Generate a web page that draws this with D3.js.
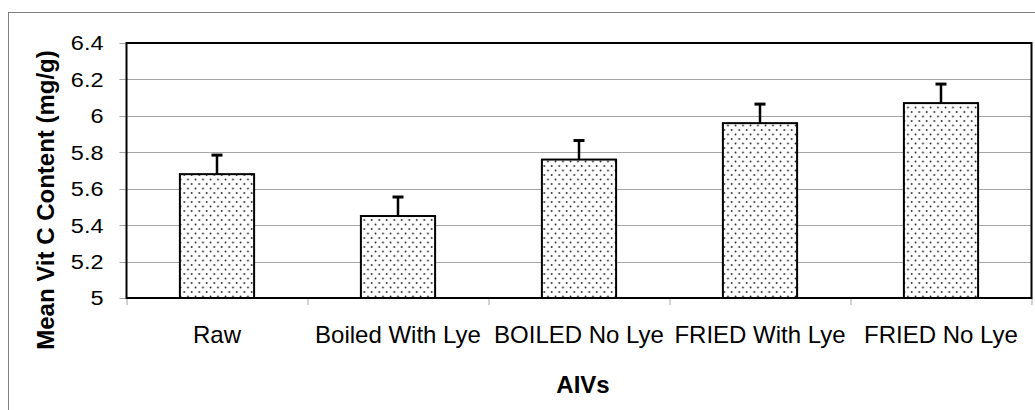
<!DOCTYPE html>
<html>
<head>
<meta charset="utf-8">
<script src="https://cdn.jsdelivr.net/npm/d3@7"></script>
<style>
  body { margin: 0; background: #fff; }
  text { font-family: "Liberation Sans", Arial, sans-serif; }
</style>
</head>
<body>
<div id="chart"></div>
<script>
// data
var categories = ["Raw", "Boiled With Lye", "BOILED No Lye", "FRIED With Lye", "FRIED No Lye"];
var means = [5.68, 5.45, 5.76, 5.96, 6.07];
var errors = [0.11, 0.11, 0.11, 0.11, 0.11];
var yTicks = [5, 5.2, 5.4, 5.6, 5.8, 6, 6.2, 6.4];

var W = 1035, H = 410;
var margin = {left: 126.5, top: 43, right: 3.5, bottom: 112};
var width = W - margin.left - margin.right,
    height = H - margin.top - margin.bottom;

var svg = d3.select("#chart").append("svg")
  .attr("width", W).attr("height", H);

// outer chart frame (runs off right and bottom edges)
svg.append("rect")
  .attr("x", 8.5).attr("y", 12.5)
  .attr("width", 1100).attr("height", 500)
  .attr("fill", "none").attr("stroke", "#7f7f7f").attr("stroke-width", 1);

// dotted fill pattern
var pat = svg.append("defs").append("pattern")
  .attr("id", "dots").attr("patternUnits", "userSpaceOnUse")
  .attr("width", 7.5).attr("height", 9);
pat.append("rect").attr("width", 7.5).attr("height", 9).attr("fill", "#fff");
pat.append("circle").attr("cx", 1.5).attr("cy", 1.5).attr("r", 0.9).attr("fill", "#222");
pat.append("circle").attr("cx", 5.25).attr("cy", 6).attr("r", 0.9).attr("fill", "#222");

var g = svg.append("g")
  .attr("transform", "translate(" + margin.left + "," + margin.top + ")");

var x = d3.scaleBand().domain(categories).range([0, width])
  .paddingInner(0.59).paddingOuter(0.295);
var y = d3.scaleLinear().domain([5, 6.4]).range([height, 0]);

// gridlines + left ticks
g.selectAll(".grid").data(yTicks).enter().append("line")
  .attr("class", "grid")
  .attr("x1", -7).attr("x2", width)
  .attr("y1", function(d) { return Math.round(y(d)) + 0.5; })
  .attr("y2", function(d) { return Math.round(y(d)) + 0.5; })
  .attr("stroke", "#a6a6a6").attr("stroke-width", 1);

// tick labels are a little wider than tall in the source, so stretch them
g.selectAll(".ylab").data(yTicks).enter().append("text")
  .attr("class", "ylab")
  .attr("dy", "0.35em")
  .attr("text-anchor", "end")
  .attr("font-size", 21)
  .attr("transform", function(d) { return "translate(-23," + y(d) + ") scale(1.12,1)"; })
  .text(function(d) { return d3.format("")(+d.toFixed(1)); });

// x ticks at category boundaries
var bounds = [0].concat(categories.map(function(c) { return x(c) + x.bandwidth() / 2 + x.step() / 2; }));
g.selectAll(".xtick").data(bounds).enter().append("line")
  .attr("class", "xtick")
  .attr("x1", function(d) { return Math.round(d) + 0.5; })
  .attr("x2", function(d) { return Math.round(d) + 0.5; })
  .attr("y1", height).attr("y2", height + 7)
  .attr("stroke", "#a6a6a6");

// bars
g.selectAll(".bar").data(means).enter().append("rect")
  .attr("class", "bar")
  .attr("x", function(d, i) { return x(categories[i]); })
  .attr("y", function(d) { return y(d); })
  .attr("width", x.bandwidth())
  .attr("height", function(d) { return height - y(d); })
  .attr("fill", "url(#dots)")
  .attr("stroke", "#000").attr("stroke-width", 2);

// error bars (upper only)
means.forEach(function(m, i) {
  var cx = x(categories[i]) + x.bandwidth() / 2;
  g.append("line")
    .attr("x1", cx).attr("x2", cx)
    .attr("y1", y(m)).attr("y2", y(m + errors[i]))
    .attr("stroke", "#000").attr("stroke-width", 2.5);
  g.append("line")
    .attr("x1", cx - 5.5).attr("x2", cx + 5.5)
    .attr("y1", y(m + errors[i]) + 1).attr("y2", y(m + errors[i]) + 1)
    .attr("stroke", "#000").attr("stroke-width", 3);
});

// plot border
g.append("rect")
  .attr("x", 0).attr("y", 0).attr("width", width).attr("height", height)
  .attr("fill", "none").attr("stroke", "#000").attr("stroke-width", 2);

// category labels
g.selectAll(".xlab").data(categories).enter().append("text")
  .attr("class", "xlab")
  .attr("x", function(d) { return x(d) + x.bandwidth() / 2; })
  .attr("y", height + 45)
  .attr("text-anchor", "middle")
  .attr("font-size", 24)
  .text(function(d) { return d; });

// axis titles
svg.append("text")
  .attr("x", 583).attr("y", 393)
  .attr("text-anchor", "middle")
  .attr("font-size", 24).attr("font-weight", "bold")
  .text("AIVs");

svg.append("text")
  .attr("transform", "translate(54,200) rotate(-90)")
  .attr("text-anchor", "middle")
  .attr("font-size", 24).attr("font-weight", "bold")
  .text("Mean Vit C Content (mg/g)");
</script>
</body>
</html>
